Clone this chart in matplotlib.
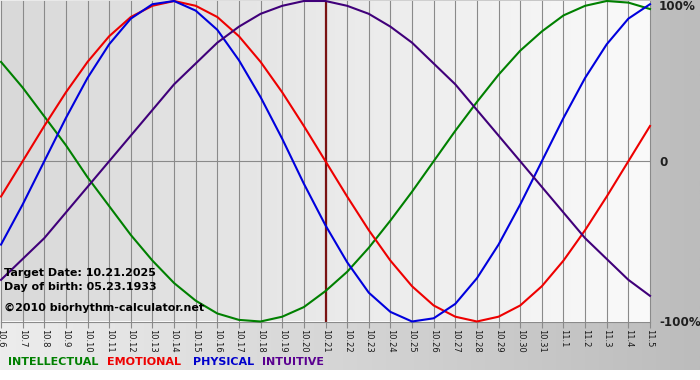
import numpy as np
import matplotlib
matplotlib.use('Agg')
import matplotlib.pyplot as plt
from matplotlib.colors import LinearSegmentedColormap

# dates shown along the bottom (month.day)
days = ['10.6', '10.7', '10.8', '10.9', '10.10', '10.11', '10.12', '10.13',
        '10.14', '10.15', '10.16', '10.17', '10.18', '10.19', '10.20', '10.21',
        '10.22', '10.23', '10.24', '10.25', '10.26', '10.27', '10.28', '10.29',
        '10.30', '10.31', '11.1', '11.2', '11.3', '11.4', '11.5']
target_date = '10.21'

# cycle values per day, -1 .. 1
physical = [-0.52, -0.27, 0.00, 0.27, 0.52, 0.73, 0.89, 0.98, 1.00, 0.94,
            0.82, 0.63, 0.40, 0.14, -0.14, -0.40, -0.63, -0.82, -0.94, -1.00,
            -0.98, -0.89, -0.73, -0.52, -0.27, 0.00, 0.27, 0.52, 0.73, 0.89, 0.98]
emotional = [-0.22, 0.00, 0.22, 0.43, 0.62, 0.78, 0.90, 0.97, 1.00, 0.97,
             0.90, 0.78, 0.62, 0.43, 0.22, 0.00, -0.22, -0.43, -0.62, -0.78,
             -0.90, -0.97, -1.00, -0.97, -0.90, -0.78, -0.62, -0.43, -0.22, 0.00, 0.22]
intellectual = [0.62, 0.46, 0.28, 0.10, -0.10, -0.28, -0.46, -0.62, -0.76, -0.87,
                -0.95, -0.99, -1.00, -0.97, -0.91, -0.81, -0.69, -0.54, -0.37, -0.19,
                0.00, 0.19, 0.37, 0.54, 0.69, 0.81, 0.91, 0.97, 1.00, 0.99, 0.95]
intuitive = [-0.74, -0.61, -0.48, -0.32, -0.16, 0.00, 0.16, 0.32, 0.48, 0.61,
             0.74, 0.84, 0.92, 0.97, 1.00, 1.00, 0.97, 0.92, 0.84, 0.74,
             0.61, 0.48, 0.32, 0.16, 0.00, -0.16, -0.32, -0.48, -0.61, -0.74, -0.84]

W, H = 700, 380
fig = plt.figure(figsize=(W / 100, H / 100), dpi=100)
fig.patch.set_facecolor('white')

# gray gradient behind everything
bg = fig.add_axes([0, 10 / H, 1, 370 / H])
bg.imshow(np.linspace(0, 1, 256)[None, :], aspect='auto', extent=[0, 1, 0, 1],
          cmap=LinearSegmentedColormap.from_list('bg', ['#ededed', '#bcbcbc']))
bg.axis('off')

ax = fig.add_axes([1 / W, (H - 321.5) / H, 649 / W, 320.5 / H])
x = np.arange(len(days))
ax.imshow(np.linspace(0, 1, 256)[None, :], aspect='auto',
          extent=[0, len(days) - 1, -1, 1], zorder=0,
          cmap=LinearSegmentedColormap.from_list('pa', ['#d9d9d9', '#fafafa']))
ax.set_xlim(0, len(days) - 1)
ax.set_ylim(-1, 1)

for xi in x:
    ax.axvline(xi, color='#8a8a8a', lw=0.8, zorder=1, clip_on=False)
ax.axhline(0, color='#8a8a8a', lw=0.8, zorder=1)
ax.axvline(days.index(target_date), color='#7a1212', lw=1.6, zorder=2)

ax.plot(x, intellectual, color='#008000', lw=1.5, zorder=3, clip_on=False)
ax.plot(x, emotional, color='#ee0000', lw=1.5, zorder=3, clip_on=False)
ax.plot(x, physical, color='#0000dd', lw=1.5, zorder=3, clip_on=False)
ax.plot(x, intuitive, color='#40007a', lw=1.5, zorder=3, clip_on=False)

for s in ['top', 'left', 'right']:
    ax.spines[s].set_visible(False)
ax.spines['bottom'].set_color('#8a8a8a')
ax.set_yticks([])
ax.set_xticks(x, days, rotation=270, fontsize=6)
ax.tick_params(axis='x', length=4, color='#8a8a8a', pad=1.5, labelcolor='#1a1a1a')

# percent labels on the right
for lab, py in [('100%', 7), ('0', 162), ('-100%', 322)]:
    fig.text(659 / W, 1 - py / H, lab, fontsize=8.6, fontweight='bold',
             color='#202020', va='center', ha='left')

# info text
ax.text(0.004, 1 - 272.5 / 320.5, 'Target Date: 10.21.2025', transform=ax.transAxes,
        fontsize=8, fontweight='bold', va='center', zorder=5)
ax.text(0.004, 1 - 286.5 / 320.5, 'Day of birth: 05.23.1933', transform=ax.transAxes,
        fontsize=8, fontweight='bold', va='center', zorder=5)
ax.text(0.004, 1 - 306.5 / 320.5, '\u00a92010 biorhythm-calculator.net', transform=ax.transAxes,
        fontsize=8, fontweight='bold', va='center', zorder=5)

# legend row
for lab, col, px in [('INTELLECTUAL', '#008000', 8), ('EMOTIONAL', '#ee0000', 107),
                     ('PHYSICAL', '#0000cc', 193), ('INTUITIVE', '#5a0090', 262)]:
    fig.text(px / W, 1 - 362 / H, lab, color=col, fontsize=8, fontweight='bold',
             va='center', ha='left')

fig.savefig('out.png', dpi=100)
